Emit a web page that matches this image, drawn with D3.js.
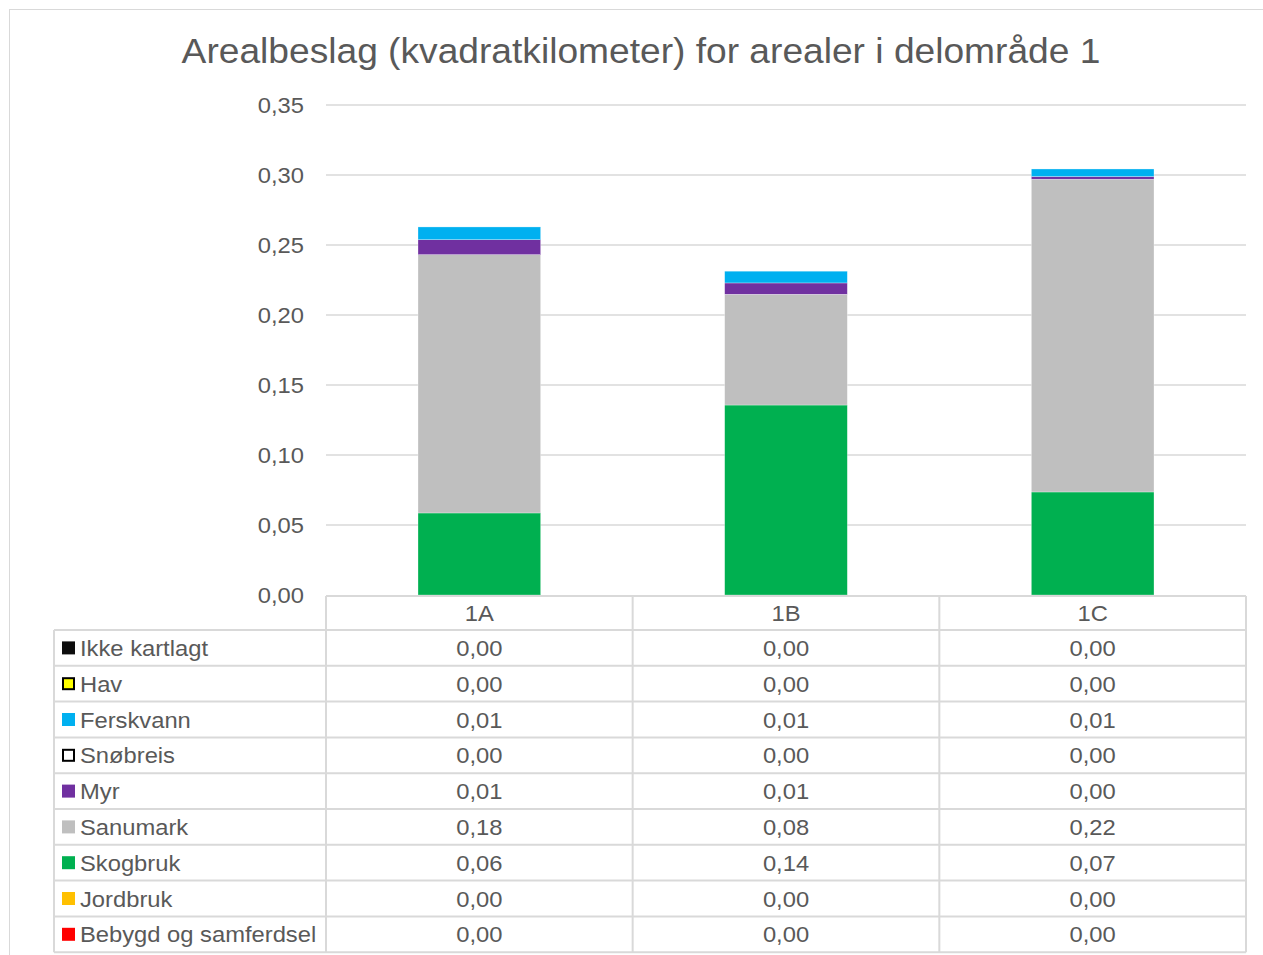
<!DOCTYPE html>
<html>
<head>
<meta charset="utf-8">
<script src="https://cdn.jsdelivr.net/npm/d3@7"></script>
<style>
  body { margin: 0; background: #fff; }
  text { font-family: "Liberation Sans", Arial, sans-serif; fill: #595959; }
</style>
</head>
<body>
<div id="chart"></div>
<script>
// data
const categories = ["1A", "1B", "1C"];
const seriesNames = ["Ikke kartlagt", "Hav", "Ferskvann", "Snøbreis", "Myr", "Sanumark", "Skogbruk", "Jordbruk", "Bebygd og samferdsel"];
const ikkeKartlagt = [0, 0, 0];
const hav = [0, 0, 0];
const ferskvann = [0.0091, 0.0084, 0.0054];
const snobreis = [0, 0, 0];
const myr = [0.0107, 0.0081, 0.0019];
const sanumark = [0.1845, 0.0791, 0.2234];
const skogbruk = [0.0586, 0.1357, 0.0736];
const jordbruk = [0, 0, 0];
const bebygd = [0, 0, 0];
const yTicks = [0, 0.05, 0.10, 0.15, 0.20, 0.25, 0.30, 0.35];

const seriesValues = [ikkeKartlagt, hav, ferskvann, snobreis, myr, sanumark, skogbruk, jordbruk, bebygd];
const colors = ["#0d0d0d", "#ffff00", "#00b0f0", "#ffffff", "#7030a0", "#bfbfbf", "#00b050", "#ffc000", "#ff0000"];
const outlined = { "Hav": true, "Snøbreis": true };

// rader for d3.stack
const rows = categories.map((c, i) => {
  const r = { cat: c };
  seriesNames.forEach((s, j) => { r[s] = seriesValues[j][i]; });
  return r;
});

const width = 1263, height = 955;
const plot = { left: 326, right: 1246, top: 105, bottom: 595 };
const sx = 1.08; // teksten i originalen er litt strukket på bredden
const fmt = v => d3.format(".2f")(v).replace(".", ",");

const svg = d3.select("#chart").append("svg")
  .attr("width", width).attr("height", height);

// hjelper: tekst med horisontal strekk rundt ankerpunktet
function label(sel, x, y, txt, size, anchor, k) {
  return sel.append("text")
    .attr("transform", `translate(${x},${y}) scale(${k || sx},1)`)
    .attr("text-anchor", anchor || "start")
    .style("font-size", size + "px")
    .text(txt);
}

// ramme rundt diagrammet
svg.append("rect")
  .attr("x", 9.5).attr("y", 9.5)
  .attr("width", width + 20).attr("height", height + 20)
  .attr("fill", "none").attr("stroke", "#d9d9d9").attr("stroke-width", 1);

label(svg, 641, 62.5, "Arealbeslag (kvadratkilometer) for arealer i delområde 1", 34.5, "middle", 1.077);

const x = d3.scaleBand().domain(categories).range([plot.left, plot.right]);
const y = d3.scaleLinear().domain([0, 0.35]).range([plot.bottom, plot.top]);

// rutenett
svg.append("g").selectAll("line")
  .data(yTicks.slice(1))
  .enter().append("line")
  .attr("x1", plot.left).attr("x2", plot.right)
  .attr("y1", d => y(d)).attr("y2", d => y(d))
  .attr("stroke", "#d9d9d9").attr("stroke-width", 1.5);

// y-akse
const yAxis = svg.append("g")
  .attr("transform", `translate(${plot.left},0)`)
  .call(d3.axisLeft(y).tickValues(yTicks).tickFormat(fmt).tickSize(0).tickPadding(20.4));
yAxis.select(".domain").remove();
yAxis.selectAll("text")
  .style("font-size", "22px")
  .attr("fill", "#595959")
  .attr("font-family", null)
  .attr("dy", "0.35em")
  .attr("transform", `scale(${sx},1)`);

// stablede søyler (nederst: Bebygd ... øverst: Ikke kartlagt)
const stack = d3.stack().keys(seriesNames.slice().reverse());
const stacked = stack(rows);
const barW = x.bandwidth() * 0.4;

svg.append("g").selectAll("g")
  .data(stacked)
  .enter().append("g")
  .attr("fill", d => colors[seriesNames.indexOf(d.key)])
  .selectAll("rect")
  .data(d => d.filter(p => p[1] - p[0] > 0))
  .enter().append("rect")
  .attr("x", d => x(d.data.cat) + (x.bandwidth() - barW) / 2)
  .attr("width", barW)
  .attr("y", d => y(d[1]))
  .attr("height", d => y(d[0]) - y(d[1]))
  .attr("stroke", "#ffffff").attr("stroke-width", 0.5).attr("stroke-opacity", 0.6);

// datatabell
const headerTop = 596, headerH = 34, rowH = 35.8;
const tableLeft = 54;
const tg = svg.append("g");
const lineColor = "#d9d9d9";
const tableBottom = headerTop + headerH + rowH * seriesNames.length;

// vertikale linjer
categories.forEach(c => {
  tg.append("line")
    .attr("x1", x(c)).attr("x2", x(c))
    .attr("y1", headerTop).attr("y2", tableBottom)
    .attr("stroke", lineColor).attr("stroke-width", 2);
});
tg.append("line")
  .attr("x1", plot.right).attr("x2", plot.right)
  .attr("y1", headerTop).attr("y2", tableBottom)
  .attr("stroke", lineColor).attr("stroke-width", 2);
tg.append("line")
  .attr("x1", tableLeft).attr("x2", tableLeft)
  .attr("y1", headerTop + headerH).attr("y2", tableBottom)
  .attr("stroke", lineColor).attr("stroke-width", 2);

// horisontale linjer
tg.append("line")
  .attr("x1", plot.left).attr("x2", plot.right)
  .attr("y1", headerTop).attr("y2", headerTop)
  .attr("stroke", lineColor).attr("stroke-width", 2);
d3.range(seriesNames.length + 1).forEach(i => {
  const yy = headerTop + headerH + i * rowH;
  tg.append("line")
    .attr("x1", tableLeft).attr("x2", plot.right)
    .attr("y1", yy).attr("y2", yy)
    .attr("stroke", lineColor).attr("stroke-width", 2);
});

// kolonneoverskrifter
categories.forEach(c => {
  label(tg, x(c) + x.bandwidth() / 2, 620.7, c, 22, "middle");
});

// rader
seriesNames.forEach((s, j) => {
  const cy = headerTop + headerH + j * rowH + rowH / 2;
  const o = outlined[s];
  tg.append("rect")
    .attr("x", o ? 63 : 62)
    .attr("y", cy - (o ? 5.5 : 6.5))
    .attr("width", o ? 11 : 13)
    .attr("height", o ? 11 : 13)
    .attr("fill", colors[j])
    .attr("stroke", o ? "#000" : "none")
    .attr("stroke-width", 2);

  label(tg, 80, cy + 8, s, 22, "start");

  seriesValues[j].forEach((v, i) => {
    label(tg, x(categories[i]) + x.bandwidth() / 2, cy + 8, fmt(v), 22, "middle");
  });
});
</script>
</body>
</html>
